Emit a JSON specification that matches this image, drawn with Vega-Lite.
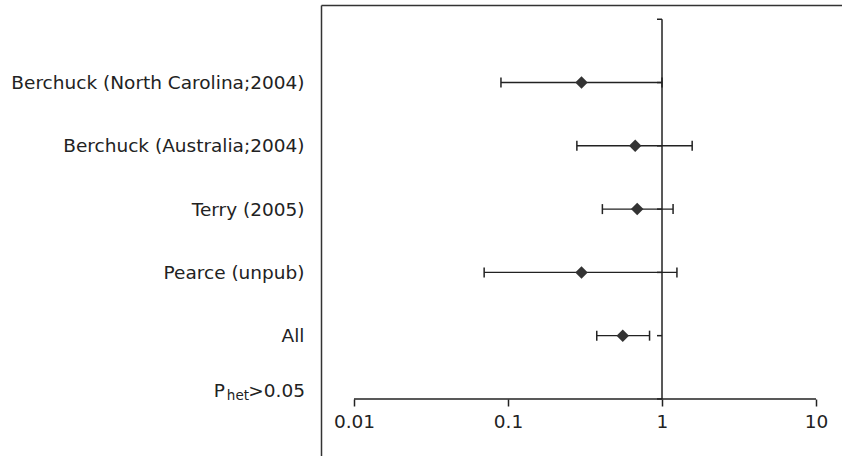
{
  "$schema": "https://vega.github.io/schema/vega-lite/v6.json",
  "width": 521,
  "height": 451,
  "autosize": {"type": "none"},
  "padding": {"left": 321, "top": 5, "right": 0, "bottom": 0},
  "background": "white",
  "config": {"view": {"stroke": null}, "font": "DejaVu Sans", "axis": {"grid": false}},
  "datasets": {
    "studies": [
      {"study": "Berchuck (North Carolina;2004)", "or": 0.30, "lo": 0.090, "hi": 1.0},
      {"study": "Berchuck (Australia;2004)", "or": 0.67, "lo": 0.28, "hi": 1.57},
      {"study": "Terry (2005)", "or": 0.69, "lo": 0.41, "hi": 1.18},
      {"study": "Pearce (unpub)", "or": 0.30, "lo": 0.070, "hi": 1.25},
      {"study": "All", "or": 0.556, "lo": 0.377, "hi": 0.83}
    ],
    "rows": [
      {"row": "top"},
      {"row": "Berchuck (North Carolina;2004)"},
      {"row": "Berchuck (Australia;2004)"},
      {"row": "Terry (2005)"},
      {"row": "Pearce (unpub)"},
      {"row": "All"},
      {"row": "P_het>0.05"}
    ],
    "refline": [{"at": 1, "from": "top", "to": "P_het>0.05"}],
    "xaxisline": [{"from": 0.01, "to": 10, "row": "P_het>0.05"}],
    "phet": [{"part": "P"}, {"part": "het"}, {"part": ">0.05"}]
  },
  "resolve": {"axis": {"x": "independent"}},
  "layer": [
    {
      "data": {"name": "refline"},
      "mark": {"type": "rule", "color": "#222", "strokeWidth": 1.5},
      "encoding": {
        "x": {
          "field": "at", "type": "quantitative",
          "scale": {"type": "log", "domain": [0.006105, 14.75], "nice": false},
          "axis": {"orient": "top", "domain": true, "domainColor": "#333", "domainWidth": 1.5, "ticks": false, "labels": false, "title": null}
        },
        "y": {
          "field": "from", "type": "nominal", "title": null,
          "scale": {
            "type": "point",
            "domain": ["top", "Berchuck (North Carolina;2004)", "Berchuck (Australia;2004)", "Terry (2005)", "Pearce (unpub)", "All", "P_het>0.05"],
            "padding": 0.5635, "align": 0.2, "round": false
          },
          "axis": {
            "orient": "left", "domain": true, "domainColor": "#333", "domainWidth": 1.5,
            "ticks": false, "tickSize": 0, "labelPadding": 17, "labelLimit": 0,
            "labelFont": "DejaVu Sans", "labelFontSize": 18.5, "labelColor": "#222",
            "labelBaseline": "middle", "labelOverlap": false, "title": null,
            "labelExpr": "datum.value == 'top' || datum.value == 'P_het>0.05' ? '' : datum.value"
          }
        },
        "y2": {"field": "to"}
      }
    },
    {
      "data": {"name": "xaxisline"},
      "mark": {"type": "rule", "color": "#222", "strokeWidth": 1.5},
      "encoding": {
        "x": {
          "field": "from", "type": "quantitative",
          "axis": {
            "orient": "bottom", "offset": -57, "values": [0.01, 0.1, 1, 10], "format": "~g",
            "domain": false, "tickSize": 7, "tickWidth": 1.5, "tickColor": "#222",
            "labelFont": "DejaVu Sans", "labelFontSize": 18.5, "labelColor": "#222", "labelPadding": 6,
            "labelOverlap": false, "labelFlush": false, "title": null
          }
        },
        "x2": {"field": "to"},
        "y": {"field": "row", "type": "nominal", "title": null}
      }
    },
    {
      "data": {"name": "rows"},
      "mark": {"type": "rule", "color": "#222", "strokeWidth": 1.5},
      "encoding": {
        "x": {"datum": 0.928, "type": "quantitative", "axis": null},
        "x2": {"datum": 1},
        "y": {"field": "row", "type": "nominal", "title": null}
      }
    },
    {
      "data": {"name": "studies"},
      "mark": {"type": "rule", "color": "#222", "strokeWidth": 1.4},
      "encoding": {
        "x": {"field": "lo", "type": "quantitative", "axis": null},
        "x2": {"field": "hi"},
        "y": {"field": "study", "type": "nominal", "title": null}
      }
    },
    {
      "data": {"name": "studies"},
      "mark": {"type": "tick", "color": "#222", "size": 10, "thickness": 1.5, "opacity": 1},
      "encoding": {
        "x": {"field": "lo", "type": "quantitative", "axis": null},
        "y": {"field": "study", "type": "nominal", "title": null}
      }
    },
    {
      "data": {"name": "studies"},
      "mark": {"type": "tick", "color": "#222", "size": 10, "thickness": 1.5, "opacity": 1},
      "encoding": {
        "x": {"field": "hi", "type": "quantitative", "axis": null},
        "y": {"field": "study", "type": "nominal", "title": null}
      }
    },
    {
      "data": {"name": "studies"},
      "mark": {"type": "point", "shape": "diamond", "filled": true, "size": 156, "color": "#333", "opacity": 1},
      "encoding": {
        "x": {"field": "or", "type": "quantitative", "axis": null},
        "y": {"field": "study", "type": "nominal", "title": null}
      }
    },
    {
      "data": {"name": "phet"},
      "transform": [{"filter": "datum.part == 'P'"}],
      "mark": {"type": "text", "font": "DejaVu Sans", "fontSize": 18.5, "color": "#222", "align": "right", "baseline": "middle", "dx": -96, "dy": -8},
      "encoding": {
        "x": {"datum": 0.006105, "type": "quantitative", "axis": null},
        "y": {"datum": "P_het>0.05", "type": "nominal", "title": null},
        "text": {"field": "part"}
      }
    },
    {
      "data": {"name": "phet"},
      "transform": [{"filter": "datum.part == 'het'"}],
      "mark": {"type": "text", "font": "DejaVu Sans", "fontSize": 13.5, "color": "#222", "align": "right", "baseline": "middle", "dx": -72, "dy": -3},
      "encoding": {
        "x": {"datum": 0.006105, "type": "quantitative", "axis": null},
        "y": {"datum": "P_het>0.05", "type": "nominal", "title": null},
        "text": {"field": "part"}
      }
    },
    {
      "data": {"name": "phet"},
      "transform": [{"filter": "datum.part == '>0.05'"}],
      "mark": {"type": "text", "font": "DejaVu Sans", "fontSize": 18.5, "color": "#222", "align": "right", "baseline": "middle", "dx": -16, "dy": -8},
      "encoding": {
        "x": {"datum": 0.006105, "type": "quantitative", "axis": null},
        "y": {"datum": "P_het>0.05", "type": "nominal", "title": null},
        "text": {"field": "part"}
      }
    }
  ]
}
